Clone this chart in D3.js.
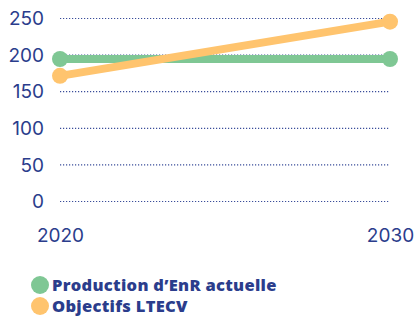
<!DOCTYPE html>
<html>
<head>
<meta charset="utf-8">
<script src="https://cdn.jsdelivr.net/npm/d3@7"></script>
<style>
  body { margin: 0; background: #fff; }
  svg { display: block; }
  .tick text { font-family: "Inter", "Noto Sans", sans-serif; fill: #2b3d8c; }
</style>
</head>
<body>
<div id="chart"></div>
<script>
var years = ["2020", "2030"];
var seriesNames = ["Production d\u2019EnR actuelle", "Objectifs LTECV"];
var production = [194, 194];
var objectifs = [171, 245];
var yTicks = [0, 50, 100, 150, 200, 250];
var colors = ["#7fc794", "#ffc46e"];

var svgWidth = 417, svgHeight = 316;
var margin = { top: 18, left: 60, right: 27, bottom: 115 };
var width = svgWidth - margin.left - margin.right;
var height = svgHeight - margin.top - margin.bottom;

var svg = d3.select("#chart").append("svg")
  .attr("width", svgWidth).attr("height", svgHeight);

var chartGroup = svg.append("g")
  .attr("transform", `translate(${margin.left}, ${margin.top})`);

var xScale = d3.scalePoint().domain(years).range([0, width]);
var yScale = d3.scaleLinear().domain([0, 250]).range([height, 0]);

// grid lines
var yAxis = d3.axisLeft(yScale).tickValues(yTicks).tickSize(-width).tickPadding(16);
var gy = chartGroup.append("g").call(yAxis);
gy.select(".domain").remove();
gy.selectAll(".tick line")
  .attr("stroke", "#3a4d9a")
  .attr("stroke-width", 1.2)
  .attr("stroke-dasharray", "1.2,1.8");
gy.selectAll(".tick text").attr("font-size", 19).attr("dy", "0.35em");

var xAxis = d3.axisBottom(xScale).tickSize(0).tickPadding(0);
var gx = chartGroup.append("g")
  .attr("transform", `translate(0, ${height + 41})`)
  .call(xAxis);
gx.select(".domain").remove();
gx.selectAll(".tick text").attr("font-size", 19).attr("dy", "0");

var series = [production, objectifs];
var line = d3.line().x((d, i) => xScale(years[i])).y(d => yScale(d));

series.forEach(function(vals, s) {
  chartGroup.append("path")
    .datum(vals)
    .attr("d", line)
    .attr("fill", "none")
    .attr("stroke", colors[s])
    .attr("stroke-width", 8);
  chartGroup.selectAll(null)
    .data(vals)
    .enter()
    .append("circle")
    .attr("cx", (d, i) => xScale(years[i]))
    .attr("cy", d => yScale(d))
    .attr("r", 8)
    .attr("fill", colors[s]);
});

// legend
var legend = svg.append("g").attr("transform", "translate(40, 285)");
seriesNames.forEach(function(name, i) {
  var g = legend.append("g").attr("transform", `translate(0, ${i * 21})`);
  g.append("circle").attr("r", 9).attr("fill", colors[i]);
  g.append("text")
    .attr("x", 12)
    .attr("dy", "0.36em")
    .attr("font-family", "'Open Sans', sans-serif")
    .attr("font-weight", 800)
    .attr("font-size", 16.5)
    .attr("letter-spacing", 0.3)
    .attr("fill", "#2b3d8c")
    .text(name);
});
</script>
</body>
</html>
